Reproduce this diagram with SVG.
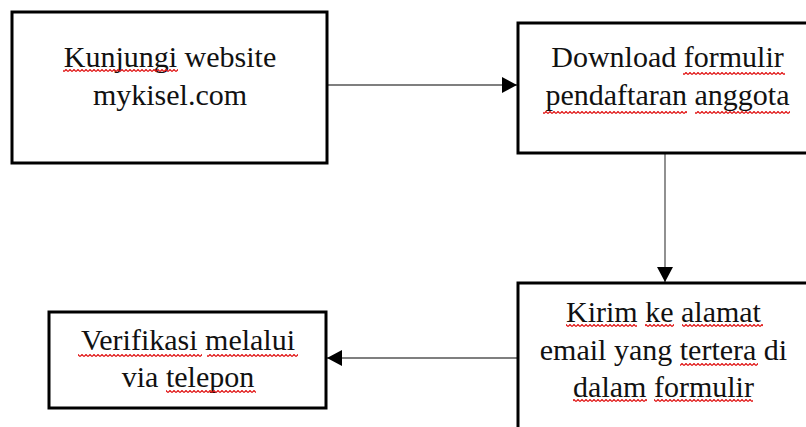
<svg xmlns="http://www.w3.org/2000/svg" width="806" height="427" viewBox="0 0 806 427">
  <style>
    .box { fill: #ffffff; stroke: #000000; stroke-width: 3; }
    .lbl { font-family: "Liberation Serif", "Times New Roman", serif; font-size: 30px; fill: #111111; text-anchor: middle; }
    .link { stroke: #555555; stroke-width: 1.3; fill: none; marker-end: url(#arrow); }
    .sq { fill: url(#squiggle); }
  </style>
  <defs>
    <marker id="arrow" markerUnits="userSpaceOnUse" markerWidth="15" markerHeight="16" refX="15" refY="8" orient="auto">
      <path d="M0,0 L15,8 L0,16 Z" fill="#000000"/>
    </marker>
    <!-- wavy spell-check underline -->
    <pattern id="squiggle" patternUnits="userSpaceOnUse" x="0" y="0" width="4" height="3">
      <path d="M0,2.5 L2,0.5 L4,2.5" fill="none" stroke="#e01010" stroke-width="1.2"/>
    </pattern>
  </defs>

  <rect width="806" height="427" fill="#ffffff"/>

  <g id="connectors">
    <line class="link" x1="328" y1="85" x2="517" y2="85"/>
    <line class="link" x1="665" y1="154" x2="665" y2="282"/>
    <line class="link" x1="517" y1="358" x2="327" y2="358"/>
  </g>

  <g id="node-kunjungi">
    <rect class="box" x="12" y="12" width="315" height="151"/>
    <text class="lbl" x="170" y="67">Kunjungi website</text>
    <text class="lbl" x="170" y="105">mykisel.com</text>
    <rect class="sq" x="63" y="69" width="115" height="3"/>
  </g>

  <g id="node-download">
    <rect class="box" x="518" y="23" width="300" height="130"/>
    <text class="lbl" x="667.5" y="67">Download formulir</text>
    <text class="lbl" x="667.5" y="105">pendaftaran anggota</text>
    <rect class="sq" x="683" y="72" width="102" height="3"/>
    <rect class="sq" x="543" y="111" width="144" height="3"/>
    <rect class="sq" x="695" y="111" width="95" height="3"/>
  </g>

  <g id="node-kirim">
    <rect class="box" x="518" y="283" width="300" height="160"/>
    <text class="lbl" x="663.5" y="322">Kirim ke alamat</text>
    <text class="lbl" x="663.5" y="359.5">email yang tertera di</text>
    <text class="lbl" x="663.5" y="397">dalam formulir</text>
    <rect class="sq" x="566" y="324" width="71" height="3"/>
    <rect class="sq" x="645" y="324" width="29" height="3"/>
    <rect class="sq" x="682" y="324" width="81" height="3"/>
    <rect class="sq" x="680" y="363" width="78" height="3"/>
    <rect class="sq" x="573" y="399" width="74" height="3"/>
    <rect class="sq" x="654" y="399" width="99" height="3"/>
  </g>

  <g id="node-verifikasi">
    <rect class="box" x="49" y="312" width="277" height="96"/>
    <text class="lbl" x="188" y="350">Verifikasi melalui</text>
    <text class="lbl" x="188" y="387">via telepon</text>
    <rect class="sq" x="78" y="354" width="124" height="3"/>
    <rect class="sq" x="207" y="354" width="91" height="3"/>
    <rect class="sq" x="166" y="390" width="90" height="3"/>
  </g>
</svg>
